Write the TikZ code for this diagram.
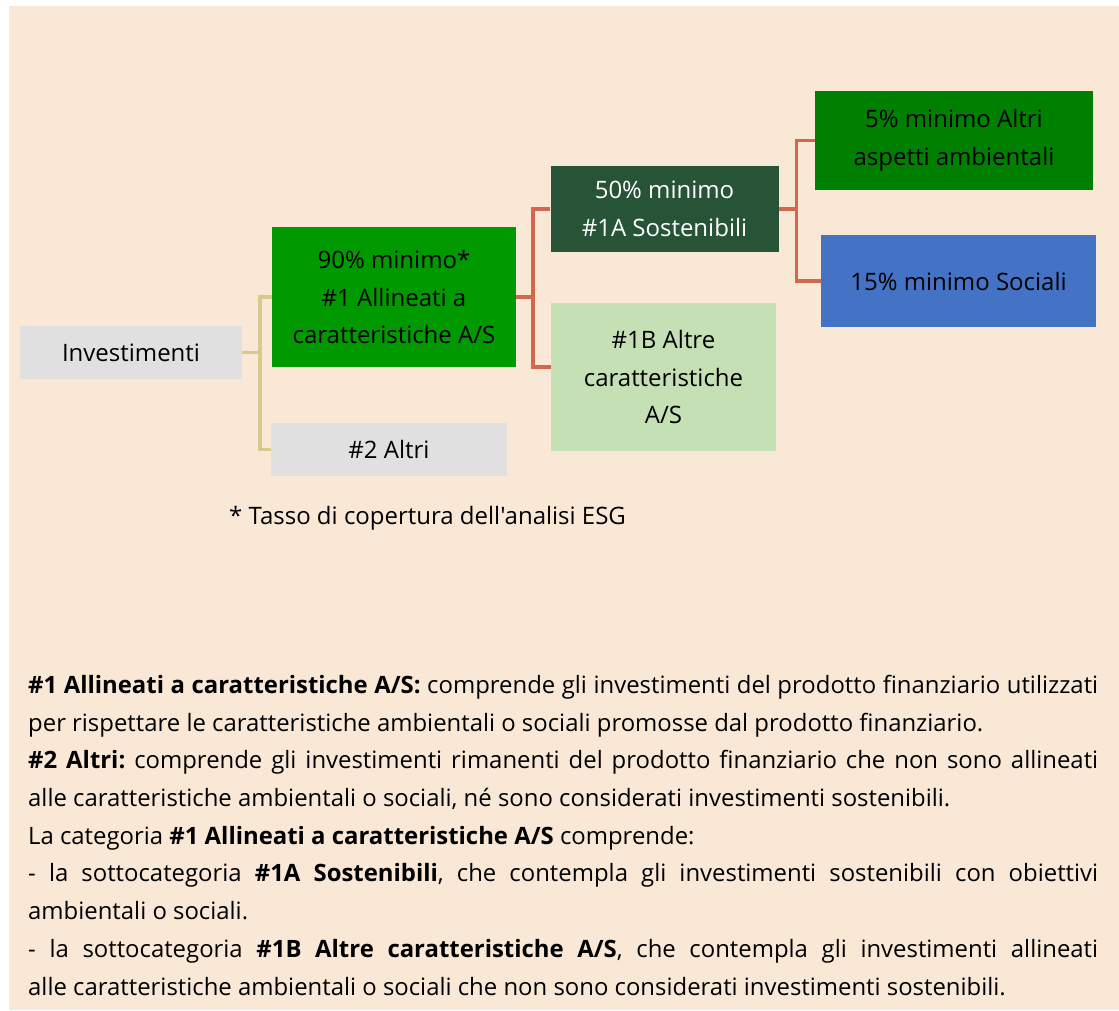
\documentclass[tikz,border=0pt]{standalone}
\usepackage{fontspec}
\setmainfont{Open Sans}[Ligatures=TeXOff]
\usetikzlibrary{positioning}
\definecolor{peach}{HTML}{FAE8D7}
\definecolor{boxgray}{HTML}{E0E0E0}
\definecolor{brightgreen}{HTML}{009900}
\definecolor{darkgreen}{HTML}{275437}
\definecolor{midgreen}{HTML}{008000}
\definecolor{socialblue}{HTML}{4472C4}
\definecolor{palegreen}{HTML}{C5E0B4}
\definecolor{forkyellow}{HTML}{D6CB8C}
\definecolor{forkred}{HTML}{D0674E}
\tikzset{
    catbox/.style={rectangle, inner sep=0pt, align=center, font=\fontsize{24}{37.5}\selectfont},
    forkline/.style={line width=3.5pt, draw=#1},
}

\begin{document}
\begin{tikzpicture}[x=1pt,y=-1pt]
            \useasboundingbox (0,0) rectangle (1119,1011);
            \fill[peach] (9,6) rectangle (1119,1010);
            \node[catbox, fill=boxgray, minimum width=222pt, minimum height=53pt] (inv) at (131,352.5) {Investimenti};
            \node[catbox, fill=brightgreen, minimum width=244pt, minimum height=140pt] (alli) at (394,297) {90\% minimo*\\\#1 Allineati a\\caratteristiche A/S};
            \node[catbox, fill=boxgray, minimum width=236pt, minimum height=53pt] (altri) at (389,449.5) {\#2 Altri};
            \node[catbox, fill=darkgreen, text=white, minimum width=228pt, minimum height=86pt] (sost) at (664.5,209) {50\% minimo\\\#1A Sostenibili};
            \node[catbox, fill=palegreen, minimum width=225pt, minimum height=148pt] (altre) at (663.5,377) {\#1B Altre\\caratteristiche\\A/S};
            \node[catbox, fill=midgreen, minimum width=278pt, minimum height=99pt] (amb) at (954,140.5) {5\% minimo Altri\\aspetti ambientali};
            \node[catbox, fill=socialblue, minimum width=275pt, minimum height=92pt] (soc) at (958.5,281) {15\% minimo Sociali};

            \draw[forkline=forkyellow] (inv.east) -- ++(18,0) coordinate (fork1);
            \draw[forkline=forkyellow] (alli.west) -| (fork1) |- (altri.west);
            \draw[forkline=forkred] (alli.east) -- ++(17,0) coordinate (fork2);
            \draw[forkline=forkred] (sost.west) -| (fork2) |- ([yshift=10pt]altre.west);
            \draw[forkline=forkred] (sost.east) -- ++(18,0) coordinate (fork3);
            \draw[forkline=forkred] (amb.west) -| (fork3) |- (soc.west);

            \node[anchor=base west, inner sep=0pt, font=\fontsize{24}{28}\selectfont] (note) at (229,524) {* Tasso di copertura dell'analisi ESG};

            \node[anchor=north west, inner sep=0pt, text width=1070pt, align=justify, font=\fontsize{23.9}{37.7}\selectfont\frenchspacing] (legend) at (28,675) {%
                \textbf{\#1 Allineati a caratteristiche A/S:} comprende gli investimenti del prodotto finanziario utilizzati\linebreak
                per rispettare le caratteristiche ambientali o sociali promosse dal prodotto finanziario.\par
                \textbf{\#2 Altri:} comprende gli investimenti rimanenti del prodotto finanziario che non sono allineati\linebreak
                alle caratteristiche ambientali o sociali, né sono considerati investimenti sostenibili.\par
                La categoria \textbf{\#1 Allineati a caratteristiche A/S} comprende:\par
                - la sottocategoria \textbf{\#1A Sostenibili}, che contempla gli investimenti sostenibili con obiettivi\linebreak
                ambientali o sociali.\par
                - la sottocategoria \textbf{\#1B Altre caratteristiche A/S}, che contempla gli investimenti allineati\linebreak
                alle caratteristiche ambientali o sociali che non sono considerati investimenti sostenibili.};
        \end{tikzpicture}
\end{document}
